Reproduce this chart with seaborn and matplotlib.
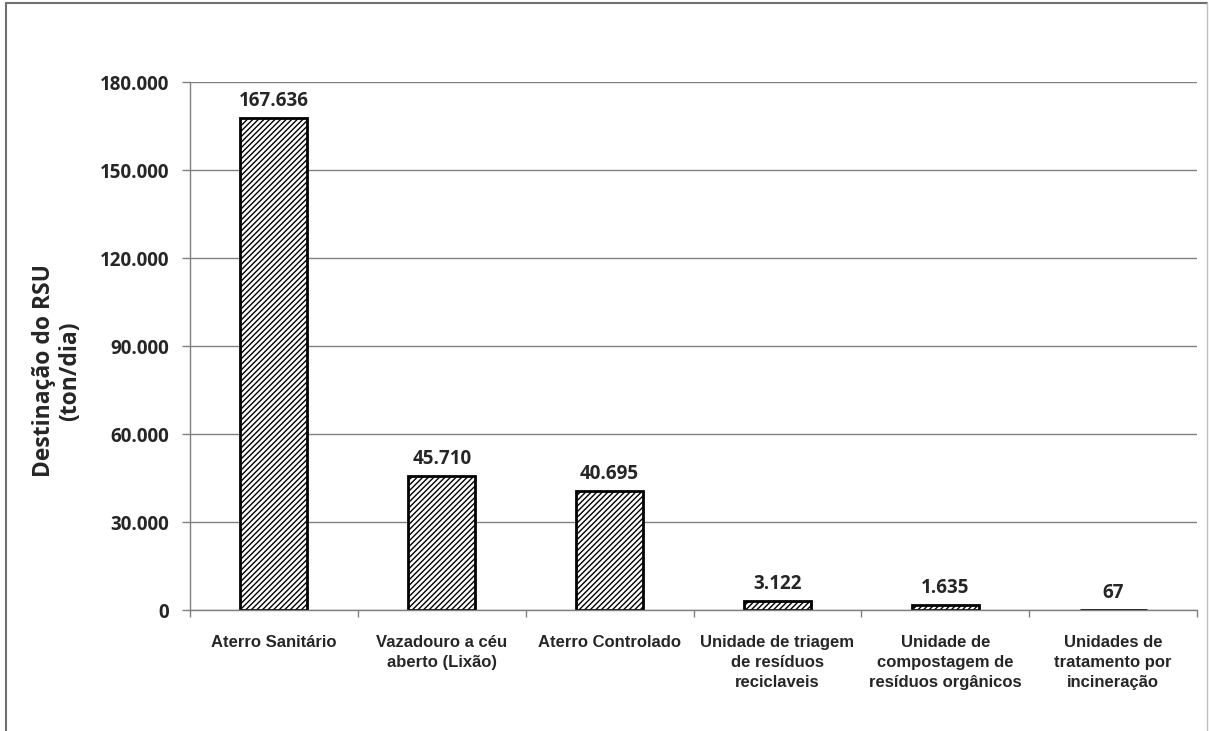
import matplotlib
matplotlib.use("Agg")
import matplotlib.pyplot as plt
from matplotlib.lines import Line2D
from matplotlib.ticker import FuncFormatter, FixedLocator
import seaborn as sns
import pandas as pd

categories = [
    "Aterro Sanitário",
    "Vazadouro a céu\naberto (Lixão)",
    "Aterro Controlado",
    "Unidade de triagem\nde resíduos\nreciclaveis",
    "Unidade de\ncompostagem de\nresíduos orgânicos",
    "Unidades de\ntratamento por\nincineração",
]
values = [167636, 45710, 40695, 3122, 1635, 67]
value_labels = ["167.636", "45.710", "40.695", "3.122", "1.635", "67"]
y_ticks = [0, 30000, 60000, 90000, 120000, 150000, 180000]

sns.set_theme(style="white")
plt.rcParams["hatch.linewidth"] = 1.0
plt.rcParams["hatch.color"] = "black"

df = pd.DataFrame({"cat": categories, "val": values})

fig = plt.figure(figsize=(12.09, 7.31), dpi=100)
ax = fig.add_axes([190 / 1209, 1 - 610 / 731, (1197 - 190) / 1209, (610 - 82) / 731])

sns.barplot(data=df, x="cat", y="val", ax=ax, color="white", width=0.40,
            edgecolor="black", linewidth=2.0, hatch="//////", saturation=1)

ax.set_xlim(-0.5, len(categories) - 0.5)
ax.set_ylim(0, 180000)
ax.set_yticks(y_ticks)
ax.yaxis.set_major_formatter(FuncFormatter(lambda v, p: f"{int(v):,}".replace(",", ".")))
ax.yaxis.grid(True, color="#808080", linewidth=1.0)
ax.set_axisbelow(True)

for s in ["top", "right"]:
    ax.spines[s].set_visible(False)
for s in ["left", "bottom"]:
    ax.spines[s].set_color("#808080")
    ax.spines[s].set_linewidth(1.0)

num_font = dict(family="Open Sans", weight="bold", size=13.5)
for lbl in ax.get_yticklabels():
    lbl.set_fontfamily("Open Sans")
    lbl.set_fontweight("bold")
    lbl.set_fontsize(13.5)
ax.tick_params(axis="y", left=True, length=6, width=1, color="#808080", pad=9)

# category labels centred under bars, tick marks at category boundaries
ax.set_xticks(range(len(categories)))
ax.set_xticklabels(categories, fontfamily="Liberation Sans", fontweight="bold",
                   fontsize=12, linespacing=1.4, va="top")
ax.tick_params(axis="x", which="major", bottom=False, length=0, pad=18)
ax.xaxis.set_minor_locator(FixedLocator([i - 0.5 for i in range(len(categories) + 1)]))
ax.tick_params(axis="x", which="minor", bottom=True, length=5, width=1, color="#808080")

for i, (v, t) in enumerate(zip(values, value_labels)):
    ax.annotate(t, (i, v), xytext=(0, 5), textcoords="offset points",
                ha="center", va="bottom", **num_font)

ax.set_xlabel("")
ax.set_ylabel("Destinação do RSU\n(ton/dia)", fontfamily="Open Sans", fontweight="bold",
              fontsize=16.5, linespacing=1.15)
ax.yaxis.set_label_coords(-0.107, 0.453)

# frame around the figure
fig.add_artist(Line2D([6 / 1209, 6 / 1209], [0, 1 - 3 / 731], transform=fig.transFigure,
                      color="#707070", linewidth=1.5))
fig.add_artist(Line2D([6 / 1209, 1207 / 1209], [1 - 3 / 731, 1 - 3 / 731], transform=fig.transFigure,
                      color="#707070", linewidth=1.5))
fig.add_artist(Line2D([1207 / 1209, 1207 / 1209], [0, 1 - 3 / 731], transform=fig.transFigure,
                      color="#c0c0c0", linewidth=1.0))

fig.savefig("out.png", dpi=100, facecolor="white")
